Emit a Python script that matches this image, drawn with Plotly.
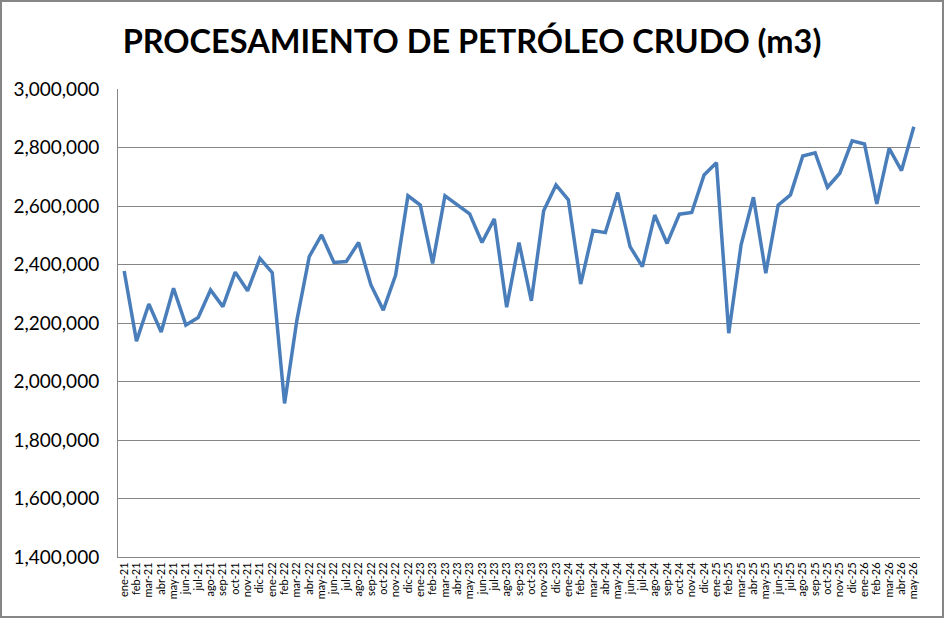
import plotly.graph_objects as go

meses = ["ene", "feb", "mar", "abr", "may", "jun",
         "jul", "ago", "sep", "oct", "nov", "dic"]

# monthly labels ene-21 .. may-26
periodos = [f"{m}-{a}" for a in range(21, 27) for m in meses][:65]

procesamiento_m3 = [
    2378000, 2138000, 2265000, 2169000, 2319000, 2193000,
    2219000, 2313000, 2256000, 2374000, 2310000, 2421000,
    2372000, 1925000, 2210000, 2427000, 2501000, 2407000,
    2410000, 2475000, 2330000, 2244000, 2364000, 2635000,
    2603000, 2404000, 2635000, 2603000, 2573000, 2475000,
    2556000, 2254000, 2475000, 2276000, 2584000, 2672000,
    2621000, 2333000, 2516000, 2509000, 2646000, 2461000,
    2393000, 2569000, 2472000, 2572000, 2578000, 2706000,
    2748000, 2165000, 2467000, 2630000, 2370000, 2603000,
    2638000, 2771000, 2782000, 2664000, 2712000, 2823000,
    2812000, 2607000, 2797000, 2721000, 2871000,
]

fig = go.Figure()
fig.add_trace(go.Scatter(
    x=periodos,
    y=procesamiento_m3,
    mode="lines",
    line=dict(color="#4A7EBB", width=3.5),
    hovertemplate="%{x}: %{y:,.0f}<extra></extra>",
))

fig.update_layout(
    width=944,
    height=618,
    margin=dict(l=118, r=24, t=89, b=61),
    paper_bgcolor="white",
    plot_bgcolor="white",
    showlegend=False,
    font=dict(family="Lato, sans-serif", color="black"),
    title=dict(
        text="<b>PROCESAMIENTO DE PETRÓLEO CRUDO (m3)</b>",
        x=0.5, xref="container", xanchor="center",
        y=1 - 42 / 618, yref="container", yanchor="middle",
        font=dict(size=32.5, family="Lato, sans-serif", color="black"),
    ),
)

fig.update_xaxes(
    type="category",
    range=[-0.5, len(periodos) - 0.5],
    tickmode="linear",
    dtick=1,
    tickangle=-90,
    tickfont=dict(size=11, family="Lato, sans-serif"),
    showgrid=False,
    showline=True,
    linecolor="#868686",
    linewidth=1,
    ticks="",
)
fig.update_yaxes(
    range=[1400000, 3000000],
    dtick=200000,
    tickformat=",",
    tickfont=dict(size=19, family="Lato, sans-serif"),
    showgrid=True,
    gridcolor="#868686",
    gridwidth=1,
    showline=True,
    linecolor="#868686",
    linewidth=1,
    ticks="",
    ticklabelstandoff=14,
    zeroline=False,
)

# outer chart border (plot area is 802 x 468 px)
fig.add_shape(
    type="rect", xref="paper", yref="paper",
    x0=-117 / 802, x1=(802 + 23) / 802,
    y0=-60 / 468, y1=(468 + 88) / 468,
    line=dict(color="#868686", width=2),
    fillcolor="rgba(0,0,0,0)",
    layer="above",
)

fig.write_html(
    "out.html",
    config={"displayModeBar": False},
    post_script="document.body.style.margin='0';document.body.style.overflow='hidden';",
)
